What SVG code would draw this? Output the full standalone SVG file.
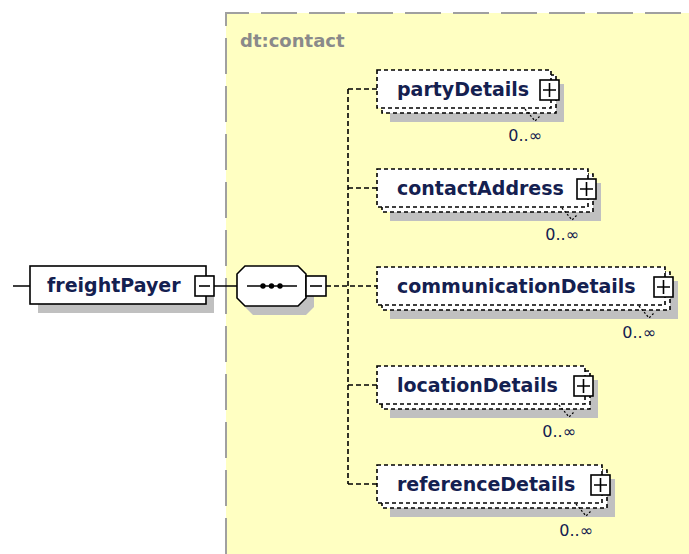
<svg xmlns="http://www.w3.org/2000/svg" width="689" height="554" viewBox="0 0 689 554">
<style>
.name{font-family:"DejaVu Sans",Verdana,sans-serif;font-weight:bold;font-size:19px;fill:#142050}
.occ{font-family:"DejaVu Sans",Verdana,sans-serif;font-size:16px;fill:#142050}
.type{font-family:"DejaVu Sans",Verdana,sans-serif;font-weight:bold;font-size:18px;fill:#8a8a8a}
.box{fill:#fff;stroke:#000;stroke-width:1.6}
.dbox{fill:#fff;stroke:#000;stroke-width:1.6;stroke-dasharray:4 3}
.shadow{fill:#c0c0c0}
.conn{fill:none;stroke:#000;stroke-width:1.6}
.dconn{fill:none;stroke:#000;stroke-width:1.6;stroke-dasharray:5 3}
.btn{fill:#fff;stroke:#000;stroke-width:1.6}
.sign{fill:none;stroke:#000;stroke-width:1.6}
.tick{fill:none;stroke:#000;stroke-width:1.2;stroke-dasharray:2 2}
</style>
<g id="contact">
<rect x="226" y="13" width="463" height="541" fill="#FFFFC2"/>
<path d="M226,554 V13 H689" fill="none" stroke="#a0a0a0" stroke-width="2" stroke-dasharray="36 12"/>
<text class="type" x="240" y="47">dt:contact</text>
</g>
<g id="connectors">
<path class="conn" d="M13,286 H30 M214,286 H237"/>
<path class="dconn" d="M326,286 H377 M348,89 V484 M348,89 H377 M348,188 H377 M348,385 H377 M348,484 H377"/>
</g>
<g id="freightPayer">
<rect class="shadow" x="38" y="275" width="176" height="38"/>
<rect class="box" x="30" y="266" width="176" height="38"/>
<text class="name" x="47" y="292">freightPayer</text>
<rect class="btn" x="195" y="276" width="19" height="20"/>
<path class="sign" d="M199,286 H210"/>
</g>
<g id="sequence">
<polygon class="shadow" points="253,275 306,275 314,283 314,307 306,315 253,315 245,307 245,283"/>
<polygon class="box" points="245,266 298,266 306,274 306,298 298,306 245,306 237,298 237,274"/>
<path class="sign" d="M247,286 H297"/>
<circle cx="263" cy="286" r="2.7"/>
<circle cx="271.5" cy="286" r="2.7"/>
<circle cx="280" cy="286" r="2.7"/>
<rect class="btn" x="306" y="276" width="20" height="20"/>
<path class="sign" d="M310,286 H322"/>
</g>
<g id="partyDetails">
<rect class="shadow" x="390" y="84" width="174" height="38"/>
<rect class="dbox" x="382" y="75" width="174" height="38"/>
<rect class="dbox" x="377" y="70" width="174" height="38"/>
<text class="name" x="397" y="96">partyDetails</text>
<rect class="btn" x="540" y="80" width="19" height="20"/>
<path class="sign" d="M543,90 H556 M549.5,83 V97"/>
<polyline class="tick" points="525,109 535,121 540,116"/>
<text class="occ" x="542" y="141" text-anchor="end">0..∞</text>
</g>
<g id="contactAddress">
<rect class="shadow" x="390" y="183" width="211" height="38"/>
<rect class="dbox" x="382" y="174" width="211" height="38"/>
<rect class="dbox" x="377" y="169" width="211" height="38"/>
<text class="name" x="397" y="195">contactAddress</text>
<rect class="btn" x="577" y="179" width="19" height="20"/>
<path class="sign" d="M580,189 H593 M586.5,182 V196"/>
<polyline class="tick" points="562,208 572,220 577,215"/>
<text class="occ" x="579" y="240" text-anchor="end">0..∞</text>
</g>
<g id="communicationDetails">
<rect class="shadow" x="390" y="281" width="288" height="38"/>
<rect class="dbox" x="382" y="272" width="288" height="38"/>
<rect class="dbox" x="377" y="267" width="288" height="38"/>
<text class="name" x="397" y="293">communicationDetails</text>
<rect class="btn" x="654" y="277" width="19" height="20"/>
<path class="sign" d="M657,287 H670 M663.5,280 V294"/>
<polyline class="tick" points="639,306 649,318 654,313"/>
<text class="occ" x="656" y="338" text-anchor="end">0..∞</text>
</g>
<g id="locationDetails">
<rect class="shadow" x="390" y="380" width="208" height="38"/>
<rect class="dbox" x="382" y="371" width="208" height="38"/>
<rect class="dbox" x="377" y="366" width="208" height="38"/>
<text class="name" x="397" y="392">locationDetails</text>
<rect class="btn" x="574" y="376" width="19" height="20"/>
<path class="sign" d="M577,386 H590 M583.5,379 V393"/>
<polyline class="tick" points="559,405 569,417 574,412"/>
<text class="occ" x="576" y="437" text-anchor="end">0..∞</text>
</g>
<g id="referenceDetails">
<rect class="shadow" x="390" y="479" width="225" height="38"/>
<rect class="dbox" x="382" y="470" width="225" height="38"/>
<rect class="dbox" x="377" y="465" width="225" height="38"/>
<text class="name" x="397" y="491">referenceDetails</text>
<rect class="btn" x="591" y="475" width="19" height="20"/>
<path class="sign" d="M594,485 H607 M600.5,478 V492"/>
<polyline class="tick" points="576,504 586,516 591,511"/>
<text class="occ" x="593" y="536" text-anchor="end">0..∞</text>
</g>
</svg>
